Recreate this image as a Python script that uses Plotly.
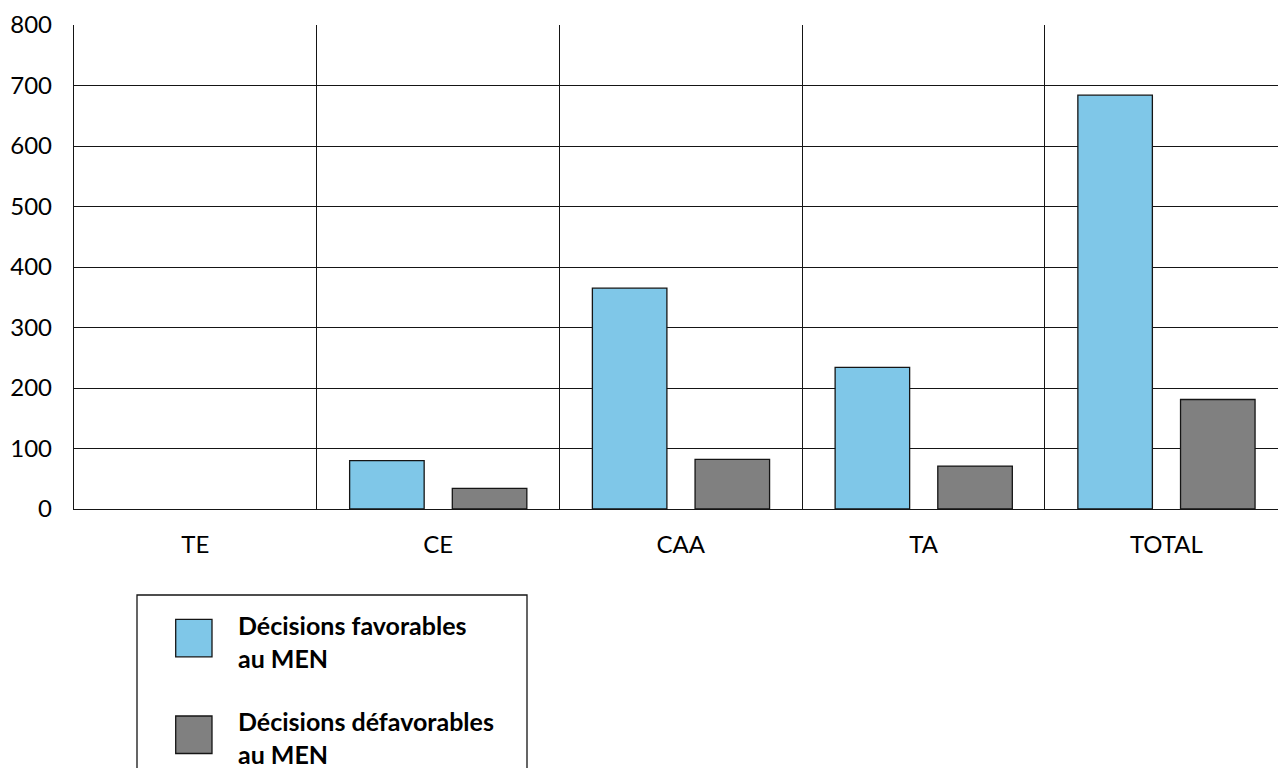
import plotly.graph_objects as go

categories = ["TE", "CE", "CAA", "TA", "TOTAL"]
favorables = [0, 80, 365, 234, 684]
defavorables = [0, 34, 82, 71, 181]
series_names = ["Décisions favorables au MEN", "Décisions défavorables au MEN"]
legend_labels = ["Décisions favorables<br>au MEN", "Décisions défavorables<br>au MEN"]
y_ticks = [0, 100, 200, 300, 400, 500, 600, 700, 800]

BLUE = "rgb(127,199,232)"
GRAY = "rgb(128,128,128)"
LINE = "#151515"
FONT = "Lato"

W, H = 1278, 768
ML, MR, MT, MB = 74, 0, 25, 259
PW, PH = W - ML - MR, H - MT - MB

def px_x(px):
    return (px - ML) / PW

def px_y(py):
    return (H - MB - py) / PH

def outline_widths(values):
    return [0 if v == 0 else 1.3 for v in values]

fig = go.Figure()
fig.add_trace(go.Bar(x=categories, y=favorables, name=series_names[0],
                     marker=dict(color=BLUE, line=dict(color=LINE, width=outline_widths(favorables))),
                     width=0.307, offset=-0.3645))
fig.add_trace(go.Bar(x=categories, y=defavorables, name=series_names[1],
                     marker=dict(color=GRAY, line=dict(color=LINE, width=outline_widths(defavorables))),
                     width=0.307, offset=0.0585))

shapes = [dict(type="rect", xref="paper", yref="paper",
               x0=px_x(137), x1=px_x(527), y0=px_y(595), y1=px_y(790),
               line=dict(color=LINE, width=1.3), fillcolor="white", layer="above")]
annotations = []
sw_tops = [619.3, 716]
text_centers = [641, 737]
for i, color in enumerate([BLUE, GRAY]):
    shapes.append(dict(type="rect", xref="paper", yref="paper",
                       x0=px_x(175.7), x1=px_x(212), y0=px_y(sw_tops[i]), y1=px_y(sw_tops[i] + 37.5),
                       line=dict(color=LINE, width=1.3), fillcolor=color, layer="above"))
    annotations.append(dict(text="<b>" + legend_labels[i] + "</b>", xref="paper", yref="paper",
                            x=px_x(236), y=px_y(text_centers[i]), align="left",
                            xanchor="left", yanchor="middle", showarrow=False,
                            font=dict(family=FONT, size=25, color="black")))

fig.update_layout(
    width=W, height=H,
    margin=dict(l=ML, r=MR, t=MT, b=MB),
    paper_bgcolor="white", plot_bgcolor="white",
    showlegend=False,
    barmode="overlay",
    font=dict(family=FONT, size=24, color="black"),
    shapes=shapes, annotations=annotations,
    xaxis=dict(type="category", range=[-0.5, 4.46], tickson="boundaries",
               showgrid=True, gridcolor=LINE, gridwidth=1.4,
               showline=True, linecolor=LINE, linewidth=1.4,
               ticks="", tickfont=dict(family=FONT, size=24, color="black"),
               ticklabelstandoff=14, fixedrange=True),
    yaxis=dict(range=[0, 800], tickvals=y_ticks, showgrid=True, gridcolor=LINE, gridwidth=1.4,
               showline=True, linecolor=LINE, linewidth=1.4, zeroline=False,
               ticks="", tickfont=dict(family=FONT, size=24, color="black"),
               ticklabelstandoff=16, fixedrange=True),
)

fig.write_html("out.html", config={"displayModeBar": False})
